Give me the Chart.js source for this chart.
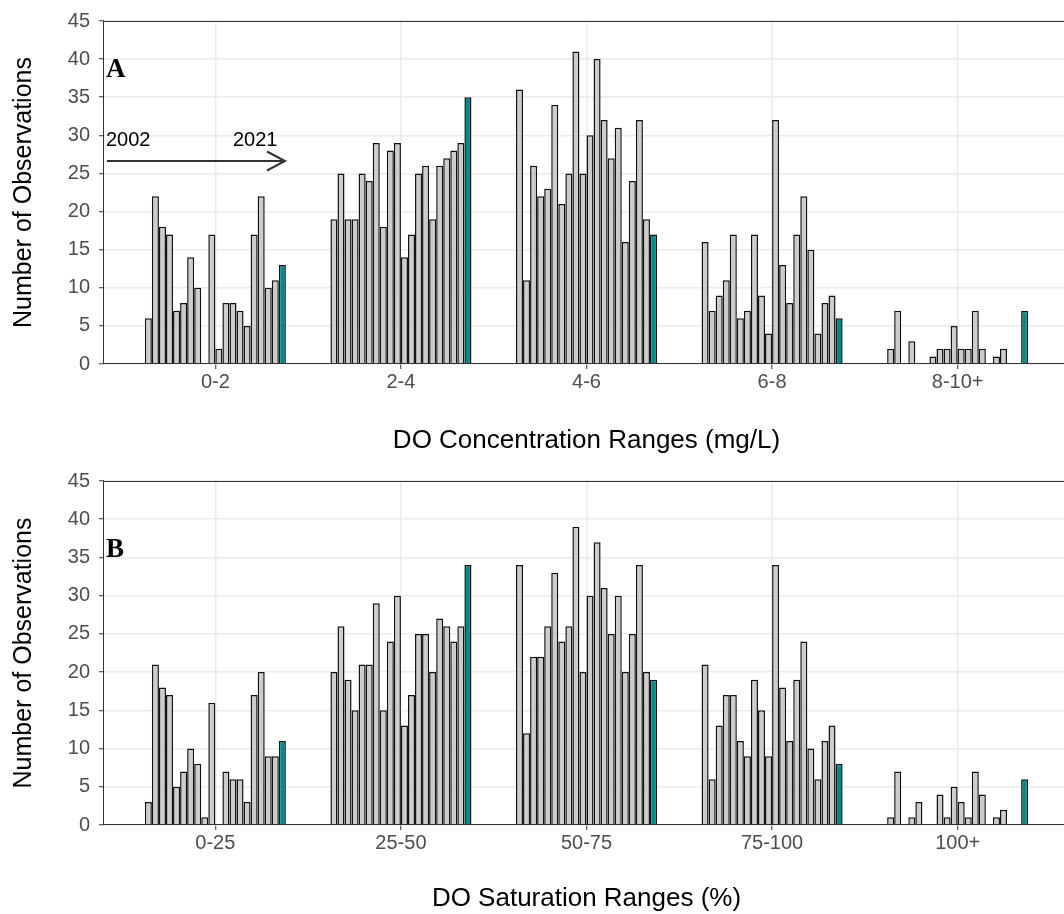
<!DOCTYPE html>
<html>
<head>
<meta charset="utf-8">
<script src="https://cdn.jsdelivr.net/npm/chart.js@4.4.1/dist/chart.umd.min.js"></script>
<style>
  html, body { margin: 0; padding: 0; background: #ffffff; overflow: hidden; }
  canvas { display: block; }
</style>
</head>
<body>
<canvas id="graficoA" width="1072" height="460"></canvas>
<canvas id="graficoB" width="1072" height="454"></canvas>
<script>
// anos (uma barra por ano dentro de cada faixa)
const anos = [2002, 2003, 2004, 2005, 2006, 2007, 2008, 2009, 2010, 2011,
              2012, 2013, 2014, 2015, 2016, 2017, 2018, 2019, 2020, 2021];

const faixasConcentracao = ['0-2', '2-4', '4-6', '6-8', '8-10+'];
const faixasSaturacao = ['0-25', '25-50', '50-75', '75-100', '100+'];
const ticksY = [0, 5, 10, 15, 20, 25, 30, 35, 40, 45];

// Painel A - concentracao de OD (mg/L)
const conc0a2 = [6, 22, 18, 17, 7, 8, 14, 10, 0, 17, 2, 8, 8, 7, 5, 17, 22, 10, 11, 13];
const conc2a4 = [19, 25, 19, 19, 25, 24, 29, 18, 28, 29, 14, 17, 25, 26, 19, 26, 27, 28, 29, 35];
const conc4a6 = [36, 11, 26, 22, 23, 34, 21, 25, 41, 25, 30, 40, 32, 27, 31, 16, 24, 32, 19, 17];
const conc6a8 = [16, 7, 9, 11, 17, 6, 7, 17, 9, 4, 32, 13, 8, 17, 22, 15, 4, 8, 9, 6];
const conc8a10 = [2, 7, 0, 3, 0, 0, 1, 2, 2, 5, 2, 2, 7, 2, 0, 1, 2, 0, 0, 7];

// Painel B - saturacao de OD (%)
const sat0a25 = [3, 21, 18, 17, 5, 7, 10, 8, 1, 16, 0, 7, 6, 6, 3, 17, 20, 9, 9, 11];
const sat25a50 = [20, 26, 19, 15, 21, 21, 29, 15, 24, 30, 13, 17, 25, 25, 20, 27, 26, 24, 26, 34];
const sat50a75 = [34, 12, 22, 22, 26, 33, 24, 26, 39, 20, 30, 37, 31, 25, 30, 20, 25, 34, 20, 19];
const sat75a100 = [21, 6, 13, 17, 17, 11, 9, 19, 15, 9, 34, 18, 11, 19, 24, 10, 6, 11, 13, 8];
const sat100 = [1, 7, 0, 1, 3, 0, 0, 4, 1, 5, 3, 1, 7, 4, 0, 1, 2, 0, 0, 6];

Chart.defaults.font.family = '"Liberation Sans", Arial, sans-serif';
Chart.defaults.color = '#4d4d4d';

// Moldura do painel, letra e seta 2002 -> 2021
const moldura = {
    id: 'moldura',
    afterDraw(chart, args, opts) {
        const ctx = chart.ctx;
        const a = chart.chartArea;
        ctx.save();
        ctx.strokeStyle = '#333333';
        ctx.lineWidth = 1;
        ctx.strokeRect(Math.round(a.left) - 0.5, Math.round(a.top) + 0.5,
                       a.right - a.left, Math.round(a.bottom - a.top) - 1);

        ctx.fillStyle = '#000000';
        ctx.textBaseline = 'alphabetic';
        ctx.font = 'bold 27px "Liberation Serif", "Times New Roman", serif';
        ctx.fillText(opts.letra, a.left + 2, a.top + opts.letraY);

        if (opts.seta) {
            const y = a.top + 140;
            ctx.font = '20px "Liberation Sans", Arial, sans-serif';
            ctx.fillText('2002', a.left + 2, a.top + 125);
            ctx.fillText('2021', a.left + 129, a.top + 125);
            ctx.lineWidth = 2;
            ctx.beginPath();
            ctx.moveTo(a.left + 3, y);
            ctx.lineTo(a.left + 181, y);
            ctx.moveTo(a.left + 163, y - 9.5);
            ctx.lineTo(a.left + 181, y);
            ctx.lineTo(a.left + 163, y + 9.5);
            ctx.stroke();
        }
        ctx.restore();
    }
};

function criarGrafico(id, faixas, series, tituloX, opts) {
    // um dataset por ano, com um valor por faixa
    const datasets = anos.map((ano, j) => ({
        label: String(ano),
        data: series.map((serie, i) => ({ x: i, y: serie[j] === 0 ? null : serie[j] })),
        backgroundColor: j === anos.length - 1 ? '#008b8b' : '#cccccc',
        borderColor: '#111111',
        borderWidth: 1.5,
        borderSkipped: 'start',
        categoryPercentage: 0.76,
        barPercentage: 1
    }));

    const major = v => Math.abs(v % 5) < 1e-9;

    new Chart(document.getElementById(id), {
        type: 'bar',
        data: { datasets: datasets },
        options: {
            responsive: false,
            animation: false,
            layout: { padding: { top: opts.topo, right: 3, left: 0, bottom: 0 } },
            plugins: {
                legend: { display: false },
                tooltip: { enabled: false },
                moldura: { letra: opts.letra, letraY: opts.letraY, seta: opts.seta }
            },
            scales: {
                x: {
                    type: 'linear',
                    min: -0.6,
                    max: 4.6,
                    offset: false,
                    afterBuildTicks: s => { s.ticks = faixas.map((f, i) => ({ value: i })); },
                    afterFit: s => { s.height = opts.alturaX; },
                    ticks: {
                        callback: v => faixas[v],
                        autoSkip: false,
                        maxRotation: 0,
                        padding: 1,
                        color: '#4d4d4d',
                        font: { size: 20 }
                    },
                    grid: { offset: false, color: '#ebebeb', lineWidth: 1.5, tickColor: '#333333', tickLength: 5, tickWidth: 1 },
                    border: { display: false },
                    title: {
                        display: true,
                        text: tituloX,
                        color: '#000000',
                        font: { size: 26 },
                        padding: { top: 0, bottom: opts.padTitulo }
                    }
                },
                y: {
                    min: 0,
                    max: 45,
                    afterFit: s => { s.width = 104; },
                    ticks: {
                        stepSize: 2.5,
                        callback: v => ticksY.includes(v) ? v : '',
                        padding: 9,
                        color: '#4d4d4d',
                        font: { size: 20 }
                    },
                    grid: {
                        color: c => major(c.tick.value) ? '#ebebeb' : '#f2f2f2',
                        lineWidth: c => major(c.tick.value) ? 1.5 : 1,
                        tickColor: c => major(c.tick.value) ? '#333333' : 'rgba(0,0,0,0)',
                        tickLength: 5,
                        tickWidth: 1
                    },
                    border: { display: false },
                    title: {
                        display: true,
                        text: 'Number of Observations',
                        color: '#000000',
                        font: { size: 25 },
                        padding: { top: 9, bottom: 0 }
                    }
                }
            }
        },
        plugins: [moldura]
    });
}

criarGrafico('graficoA', faixasConcentracao,
    [conc0a2, conc2a4, conc4a6, conc6a8, conc8a10],
    'DO Concentration Ranges (mg/L)',
    { topo: 12, alturaX: 96, padTitulo: 4, letra: 'A', letraY: 56, seta: true });

criarGrafico('graficoB', faixasSaturacao,
    [sat0a25, sat25a50, sat50a75, sat75a100, sat100],
    'DO Saturation Ranges (%)',
    { topo: 20, alturaX: 89, padTitulo: 0, letra: 'B', letraY: 76, seta: false });
</script>
</body>
</html>
